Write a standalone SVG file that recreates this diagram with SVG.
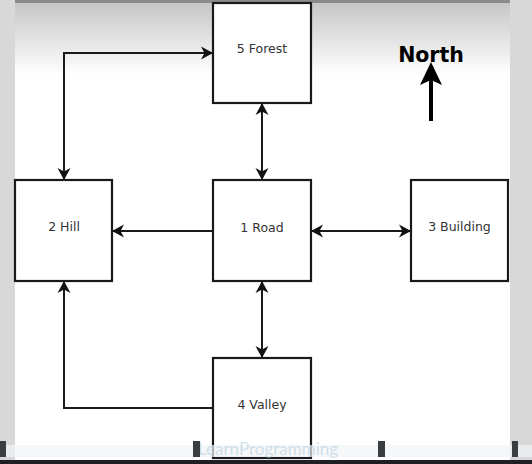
<svg xmlns="http://www.w3.org/2000/svg" width="532" height="464" viewBox="0 0 532 464">
<defs>
<linearGradient id="topgrad" x1="0" y1="0" x2="0" y2="1">
<stop offset="0" stop-color="#c4c4c4"/>
<stop offset="1" stop-color="#ffffff"/>
</linearGradient>
<marker id="ah" viewBox="-12 -7 14 14" refX="0" refY="0" markerWidth="14" markerHeight="14" orient="auto-start-reverse" markerUnits="userSpaceOnUse">
<path d="M1,0 L-11,-6.5 L-7.5,0 L-11,6.5 z" fill="#111"/>
</marker>
<style>
.box{fill:#fff;stroke:#1a1a1a;stroke-width:2.2}
.lbl{font-family:"DejaVu Sans",sans-serif;font-size:12.5px;fill:#333;text-anchor:middle}
.con{fill:none;stroke:#1a1a1a;stroke-width:2}
.mk{fill:#3a3d42}
</style>
</defs>
<rect x="0" y="0" width="532" height="464" fill="#fff"/>
<rect x="0" y="0" width="532" height="75" fill="url(#topgrad)"/>
<rect x="0" y="0" width="532" height="3" fill="#8a8a8a"/>
<rect x="0" y="0" width="15" height="464" fill="#d8d8d8"/>
<rect x="510" y="0" width="22" height="464" fill="#d8d8d8"/>

<g id="connectors">
<line class="con" x1="262" y1="104" x2="262" y2="179" marker-start="url(#ah)" marker-end="url(#ah)"/>
<line class="con" x1="212" y1="231" x2="113" y2="231" marker-end="url(#ah)"/>
<line class="con" x1="312" y1="231" x2="410" y2="231" marker-start="url(#ah)" marker-end="url(#ah)"/>
<line class="con" x1="262" y1="282" x2="262" y2="357" marker-start="url(#ah)" marker-end="url(#ah)"/>
<polyline class="con" points="212,408 64,408 64,282" marker-end="url(#ah)"/>
<polyline class="con" points="64,179 64,53 212,53" marker-start="url(#ah)" marker-end="url(#ah)"/>
</g>

<g id="node5">
<rect class="box" x="213" y="3" width="98" height="100"/>
<text class="lbl" x="262" y="53">5 Forest</text>
</g>
<g id="node2">
<rect class="box" x="15" y="180" width="97" height="101"/>
<text class="lbl" x="64" y="231">2 Hill</text>
</g>
<g id="node1">
<rect class="box" x="213" y="180" width="98" height="101"/>
<text class="lbl" x="262" y="232">1 Road</text>
</g>
<g id="node3">
<rect class="box" x="411" y="180" width="97" height="101"/>
<text class="lbl" x="459.5" y="231">3 Building</text>
</g>
<g id="node4">
<rect class="box" x="213" y="358" width="98" height="100"/>
<text class="lbl" x="262" y="409">4 Valley</text>
</g>

<g id="north">
<text x="431" y="62" font-family="DejaVu Sans, sans-serif" font-weight="bold" font-size="20.5" fill="#000" text-anchor="middle">North</text>
<line x1="431" y1="121" x2="431" y2="78" stroke="#000" stroke-width="4"/>
<path d="M431,62 L442,85 L431,80 L420,85 z" fill="#000"/>
</g>

<g id="playerbar">
<rect x="0" y="445" width="532" height="12" fill="#f2f4f5" opacity="0.7"/>
<text x="268" y="455" font-family="Lato, sans-serif" font-size="17" fill="#9fc3d8" opacity="0.45" text-anchor="middle">LearnProgramming</text>
<rect x="0" y="460" width="532" height="4" fill="#1e1f22"/>
<rect class="mk" x="0" y="441" width="6" height="16"/>
<rect class="mk" x="193" y="441" width="7" height="16"/>
<rect class="mk" x="378" y="441" width="7" height="16"/>
<rect class="mk" x="512" y="441" width="6" height="16"/>
</g>
</svg>
